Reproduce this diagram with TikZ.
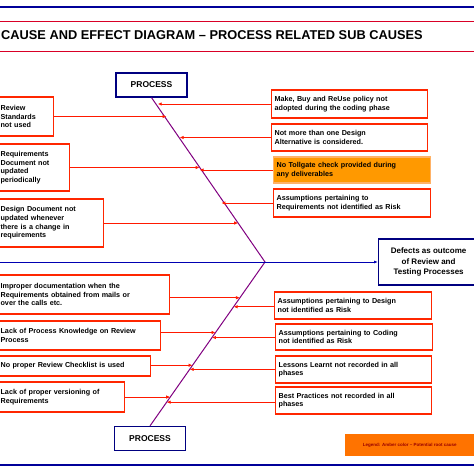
\documentclass[tikz,border=0pt]{standalone}
\usepackage{fontspec}
\setmainfont{Liberation Sans}
\usetikzlibrary{arrows.meta}

\tikzset{
  cause/.style={draw=red!70!orange, line width=1.2pt, fill=white, align=left,
    font=\bfseries\fontsize{7.2}{8.6}\selectfont, inner xsep=3pt, anchor=west},
  amber/.style={cause, fill=orange!80!yellow, draw=orange!60!white},
  process/.style={draw=blue!50!black, line width=1.2pt, fill=white,
    font=\bfseries\fontsize{8.5}{9}\selectfont, minimum width=71pt, minimum height=24pt},
  bone/.style={draw=red!80!orange, line width=0.8pt, -{Latex[length=4pt,width=3.5pt]}},
}

\begin{document}
\begin{tikzpicture}[x=1pt, y=-1pt]
    \useasboundingbox (0,0) rectangle (474,474);
    \clip (0,0) rectangle (474,474);
    % frame lines and title
    \draw[blue!60!black, line width=2pt] (0,7) -- (474,7);
    \draw[purple!60!red, line width=0.8pt] (0,21) -- (474,21);
    \draw[purple!60!red, line width=0.8pt] (0,51) -- (474,51);
    \draw[blue!60!black, line width=2pt] (0,465) -- (474,465);
    \node[font=\bfseries\fontsize{12.8}{14}\selectfont, anchor=west, inner sep=0pt] (title) at (1,35)
      {CAUSE AND EFFECT DIAGRAM -- PROCESS RELATED SUB CAUSES};

    % spine
    \node[process] (ptop) at (151.5,85) {PROCESS};
    \node[process] (pbot) at (150,438.5) {PROCESS};
    \coordinate (head) at (265,262);
    \coordinate (start) at (0,262);
    \draw[violet, line width=1pt] (ptop.south) -- (head) -- (pbot.north);
    \node[draw=blue!50!black, line width=1.2pt, fill=white, align=center, anchor=west,
      font=\bfseries\fontsize{8}{10.5}\selectfont, minimum width=100pt, minimum height=46pt, inner xsep=2pt]
      (effect) at (378,262) {Defects as outcome\\of Review and\\Testing Processes};
    \draw[blue!70!black, line width=1pt, -{Latex[length=4pt]}] (start) -- (effect.west);

    % spine points
    \path (ptop.south) -- (head)
      coordinate[pos=0.055] (s1) coordinate[pos=0.133] (s2) coordinate[pos=0.248] (s3)
      coordinate[pos=0.424] (s4) coordinate[pos=0.424] (s5) coordinate[pos=0.615] (s6)
      coordinate[pos=0.764] (s7);
    \path (head) -- (pbot.north)
      coordinate[pos=0.218] (t1) coordinate[pos=0.273] (t2) coordinate[pos=0.430] (t3)
      coordinate[pos=0.461] (t4) coordinate[pos=0.630] (t5) coordinate[pos=0.655] (t6)
      coordinate[pos=0.824] (t7) coordinate[pos=0.855] (t8);

    % causes, upper half
    \node[cause, text width=50pt, minimum height=39pt] (c1) at (-3,116.5) {Review\\Standards\\not used};
    \node[cause, text width=66pt, minimum height=47pt] (c2) at (-3,167.5) {Requirements\\Document not\\updated\\periodically};
    \node[cause, text width=100pt, minimum height=48pt] (c3) at (-3,223) {Design Document not\\updated whenever\\there is a change in\\requirements};
    \node[cause, text width=150pt, minimum height=28pt] (c4) at (271,104) {Make, Buy and ReUse policy not\\adopted during the coding phase};
    \node[cause, text width=150pt, minimum height=27pt] (c5) at (271,137.5) {Not more than one Design\\Alternative is considered.};
    \node[amber, text width=151pt, minimum height=26pt] (c6) at (273,170) {No Tollgate check provided during\\any deliverables};
    \node[cause, text width=151pt, minimum height=28pt] (c7) at (273,203) {Assumptions pertaining to\\Requirements not identified as Risk};
    \draw[bone] (c1.east) -- (c1.east -| s2);
    \draw[bone] (c2.east) -- (c2.east -| s4);
    \draw[bone] (c3.east) -- (c3.east -| s7);
    \draw[bone] (c4.west) -- (c4.west -| s1);
    \draw[bone] (c5.west) -- (c5.west -| s3);
    \draw[bone] (c6.west) -- (c6.west -| s5);
    \draw[bone] (c7.west) -- (c7.west -| s6);

    % causes, lower half
    \node[cause, text width=166pt, minimum height=39pt] (d1) at (-3,294.5) {Improper documentation when the\\Requirements obtained from mails or\\over the calls etc.};
    \node[cause, text width=157pt, minimum height=29pt] (d2) at (-3,335.5) {Lack of Process Knowledge on Review\\Process};
    \node[cause, text width=147pt, minimum height=20pt] (d3) at (-3,366) {No proper Review Checklist is used};
    \node[cause, text width=121pt, minimum height=30pt] (d4) at (-3,397) {Lack of proper versioning of\\Requirements};
    \node[cause, text width=151pt, minimum height=27pt] (d5) at (274,305.5) {Assumptions pertaining to Design\\not identified as Risk};
    \node[cause, text width=151pt, minimum height=26pt] (d6) at (275,337) {Assumptions pertaining to Coding\\not identified as Risk};
    \node[cause, text width=150pt, minimum height=27pt] (d7) at (275,369.5) {Lessons Learnt not recorded in all\\phases};
    \node[cause, text width=150pt, minimum height=27pt] (d8) at (275,400.5) {Best Practices not recorded in all\\phases};
    \draw[bone] (d1.east |- t1) -- (t1);
    \draw[bone] (d2.east |- t3) -- (t3);
    \draw[bone] (d3.east |- t5) -- (t5);
    \draw[bone] (d4.east |- t7) -- (t7);
    \draw[bone] (d5.west |- t2) -- (t2);
    \draw[bone] (d6.west |- t4) -- (t4);
    \draw[bone] (d7.west |- t6) -- (t6);
    \draw[bone] (d8.west |- t8) -- (t8);

    % legend
    \node[fill=orange!90!red, anchor=west, minimum width=129pt, minimum height=22pt, inner xsep=3pt,
      font=\bfseries\fontsize{4.5}{5}\selectfont, text=red!60!black] (legend) at (345,445)
      {Legend: Amber color -- Potential root cause};
\end{tikzpicture}
\end{document}
